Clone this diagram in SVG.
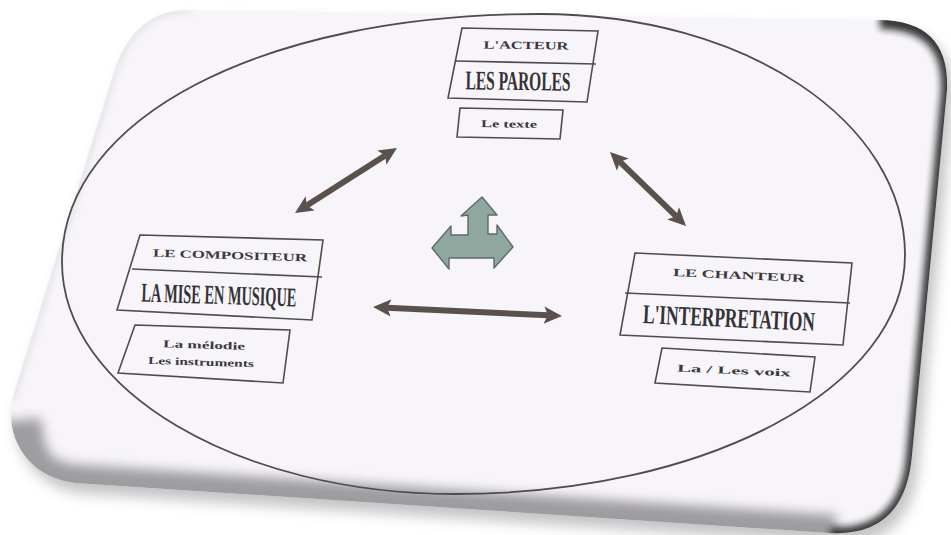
<svg xmlns="http://www.w3.org/2000/svg" width="951" height="535" viewBox="0 0 951 535">
  <style>
    .box { fill: none; stroke: #4e4c50; stroke-width: 1.6; }
    .div { fill: none; stroke: #4e4c50; stroke-width: 1.6; }
    .hdr { font-family: "Liberation Serif", "DejaVu Serif", serif; font-weight: bold; font-size: 11px; fill: #3a383c; text-anchor: middle; }
    .main { font-family: "Liberation Serif", "DejaVu Serif", serif; font-weight: bold; font-size: 27px; fill: #343236; text-anchor: middle; }
    .sub { font-family: "Liberation Serif", "DejaVu Serif", serif; font-weight: bold; font-size: 10.5px; fill: #3a383c; text-anchor: middle; }
    .conn { stroke: #5a514d; stroke-width: 6; fill: none; marker-start: url(#ah); marker-end: url(#ah); }
  </style>
  <defs>
    <filter id="blurBig" x="-10%" y="-10%" width="120%" height="130%"><feGaussianBlur stdDeviation="7"/></filter>
    <filter id="blurMid" x="-10%" y="-10%" width="120%" height="120%"><feGaussianBlur stdDeviation="6"/></filter>
    <filter id="blurSm" x="-10%" y="-10%" width="120%" height="120%"><feGaussianBlur stdDeviation="3.5"/></filter>
    <clipPath id="cardClip">
      <path d="M190,10 L880,20 Q950,21 947,90 L912,455 Q905,537 830,533 L75,483 C30,478 5,440 12,400 L113,75 Q133,9 190,10 Z"/>
    </clipPath>
    <marker id="ah" viewBox="0 -10 20 20" refX="4" refY="0" markerWidth="20" markerHeight="20" markerUnits="userSpaceOnUse" orient="auto-start-reverse">
      <path d="M0,-8.5 L18,0 L0,8.5 L4,0 Z" fill="#5a514d"/>
    </marker>
  </defs>

  <rect x="0" y="0" width="951" height="535" fill="#ffffff"/>

  <!-- card -->
  <g id="card">
    <path d="M190,10 L880,20 Q950,21 947,90 L912,455 Q905,537 830,533 L75,483 C30,478 5,440 12,400 L113,75 Q133,9 190,10 Z" transform="translate(6,10)" fill="#7a787c" opacity="0.45" filter="url(#blurBig)"/>
    <path d="M190,10 L880,20 Q950,21 947,90 L912,455 Q905,537 830,533 L75,483 C30,478 5,440 12,400 L113,75 Q133,9 190,10 Z" fill="#f7f5f9"/>
    <g clip-path="url(#cardClip)">
      <path d="M20,420 C25,470 40,482 80,486 L835,536" stroke="#8e8c92" stroke-width="42" fill="none" opacity="0.85" filter="url(#blurMid)"/>
      <path d="M880,21 Q952,22 949,92 L914,456 Q907,538 830,535" stroke="#141414" stroke-width="16" fill="none" opacity="0.85" filter="url(#blurSm)"/>
      <path d="M12,400 L113,75 Q133,9 190,10" stroke="#b8b6bc" stroke-width="3" fill="none" opacity="0.6" filter="url(#blurSm)"/>
    </g>
  </g>

  <!-- ellipse -->
  <g id="ellipse">
    <path d="M540,14 C746,14 905,122 905,255 C905,387 708,494 455,494 C238,494 62,390 62,262 C62,118 262,14 540,14 Z" fill="none" stroke="#4e4c50" stroke-width="1.8"/>
  </g>

  <!-- connectors -->
  <g id="connectors">
    <line class="conn" x1="306.8" y1="205.5" x2="385.2" y2="155.5"/>
    <line class="conn" x1="620" y1="161.8" x2="676" y2="216.2"/>
    <line class="conn" x1="387" y1="307.7" x2="548" y2="315.3"/>
  </g>

  <!-- center three-way arrow -->
  <g id="center-arrow">
    <polygon points="482,197 497,215 488,215 488,234 497,234 497,225 513,247 494,268 494,258 449,258 449,269 432,248 451,226 451,235 468,235 468,215 461,216" fill="#8fa89f" stroke="#5d6b66" stroke-width="1.4" stroke-linejoin="round"/>
  </g>

  <!-- top node -->
  <g id="node-acteur">
    <polygon class="box" points="462,28 598,31 587,102 448,98"/>
    <line class="div" x1="455" y1="61" x2="596" y2="64"/>
    <text class="hdr" x="526" y="49" textLength="85" lengthAdjust="spacingAndGlyphs" transform="rotate(0.8 526 45)">L'ACTEUR</text>
    <text class="main" x="518" y="90" textLength="105" lengthAdjust="spacingAndGlyphs" transform="rotate(0.8 518 81)">LES PAROLES</text>
  </g>
  <g id="node-texte">
    <polygon class="box" points="460,108 563,110 560,139 457,137"/>
    <text class="sub" x="509" y="127.5" textLength="56" lengthAdjust="spacingAndGlyphs" transform="rotate(0.8 509 124)">Le texte</text>
  </g>

  <!-- left node -->
  <g id="node-compositeur">
    <polygon class="box" points="140,235 323,240 312,320 117,310"/>
    <line class="div" x1="132" y1="269" x2="322" y2="277"/>
    <text class="hdr" x="230" y="259" textLength="154" lengthAdjust="spacingAndGlyphs" transform="rotate(1.8 230 255)">LE COMPOSITEUR</text>
    <text class="main" x="219" y="304" textLength="155" lengthAdjust="spacingAndGlyphs" transform="rotate(1.8 219 295)">LA MISE EN MUSIQUE</text>
  </g>
  <g id="node-melodie">
    <polygon class="box" points="135,325 290,330 283,383 118,373"/>
    <text class="sub" x="204" y="348.5" textLength="82" lengthAdjust="spacingAndGlyphs" transform="rotate(1.8 204 345)">La mélodie</text>
    <text class="sub" x="201" y="365.5" textLength="106" lengthAdjust="spacingAndGlyphs" transform="rotate(1.8 201 362)">Les instruments</text>
  </g>

  <!-- right node -->
  <g id="node-chanteur">
    <polygon class="box" points="635,253 852,263 843,345 620,335"/>
    <line class="div" x1="625" y1="293" x2="850" y2="303"/>
    <text class="hdr" x="739" y="279" textLength="132" lengthAdjust="spacingAndGlyphs" transform="rotate(2.6 739 275)">LE CHANTEUR</text>
    <text class="main" x="729" y="327" textLength="172" lengthAdjust="spacingAndGlyphs" transform="rotate(2.6 729 318)">L'INTERPRETATION</text>
  </g>
  <g id="node-voix">
    <polygon class="box" points="662,348 815,357 810,392 655,383"/>
    <text class="sub" x="734" y="374" textLength="114" lengthAdjust="spacingAndGlyphs" transform="rotate(2.6 734 370)">La / Les voix</text>
  </g>
</svg>
